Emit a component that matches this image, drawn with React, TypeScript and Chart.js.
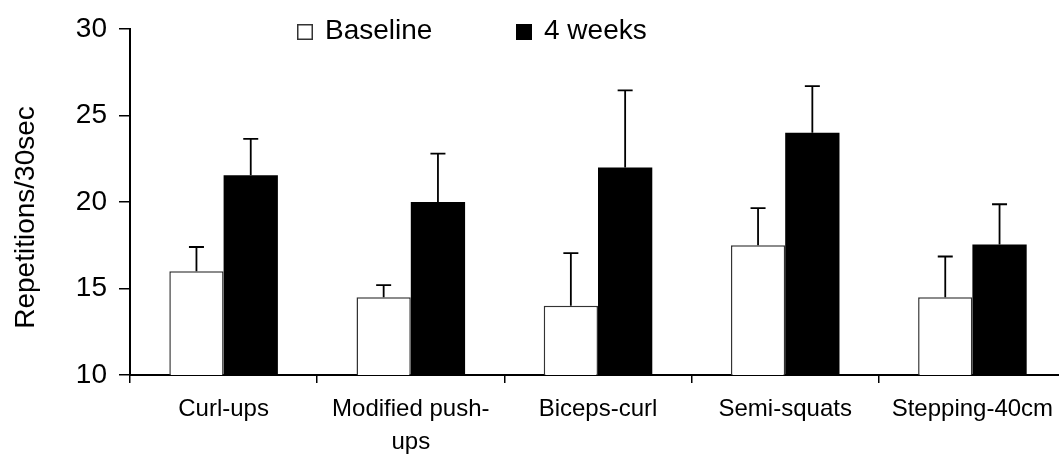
import React, { useEffect, useRef } from "react";
import { Chart, registerables } from "chart.js";

Chart.register(...registerables);

// ---- data ----
const categories: (string | string[])[] = [
  "Curl-ups",
  ["Modified push-", "ups"],
  "Biceps-curl",
  "Semi-squats",
  "Stepping-40cm",
];
const seriesNames = ["Baseline", "4 weeks"];
const baselineMeans = [16, 14.5, 14, 17.5, 14.5];
const baselineSD = [1.4, 0.7, 3.05, 2.15, 2.35];
const weeks4Means = [21.55, 20, 22, 24, 17.55];
const weeks4SD = [2.1, 2.8, 4.45, 2.7, 2.32];
const yMin = 10;
const yMax = 30;
const yStep = 5;
const yTitle = "Repetitions/30sec";

const FONT = "'Liberation Sans', Arial, Helvetica, sans-serif";

const errorBarsPlugin = {
  id: "errorBars",
  afterDatasetsDraw(chart: any) {
    const ctx = chart.ctx;
    const y = chart.scales.y;
    const sds = [baselineSD, weeks4SD];
    chart.data.datasets.forEach((ds: any, i: number) => {
      const meta = chart.getDatasetMeta(i);
      meta.data.forEach((bar: any, j: number) => {
        const x = bar.x;
        const top = y.getPixelForValue(ds.data[j] + sds[i][j]);
        ctx.save();
        ctx.strokeStyle = "#000";
        ctx.lineWidth = 1.8;
        ctx.beginPath();
        ctx.moveTo(x, bar.y);
        ctx.lineTo(x, top);
        ctx.moveTo(x - 7.5, top);
        ctx.lineTo(x + 7.5, top);
        ctx.stroke();
        ctx.restore();
      });
    });
  },
};

const customTextPlugin = {
  id: "customText",
  afterDraw(chart: any) {
    const ctx = chart.ctx;
    ctx.save();
    // y-axis title
    ctx.fillStyle = "#000";
    ctx.font = `28px ${FONT}`;
    ctx.translate(34, 217.5);
    ctx.rotate(-Math.PI / 2);
    ctx.textAlign = "center";
    ctx.textBaseline = "alphabetic";
    ctx.fillText(yTitle, 0, 0);
    ctx.restore();

    // legend
    ctx.save();
    ctx.font = `28px ${FONT}`;
    ctx.textAlign = "left";
    ctx.textBaseline = "alphabetic";
    const items = [
      { x: 297, fill: "#fff", stroke: "#333" },
      { x: 516, fill: "#000", stroke: "#000" },
    ];
    items.forEach((it, i) => {
      ctx.fillStyle = it.fill;
      ctx.fillRect(it.x, 24, 16, 16);
      ctx.strokeStyle = it.stroke;
      ctx.lineWidth = 1.5;
      ctx.strokeRect(it.x + 0.75, 24.75, 14.5, 14.5);
      ctx.fillStyle = "#000";
      ctx.fillText(seriesNames[i], it.x + 28, 39);
    });
    ctx.restore();
  },
};

export default function App() {
  const ref = useRef<HTMLCanvasElement | null>(null);

  useEffect(() => {
    if (!ref.current) return;
    const chart = new Chart(ref.current, {
      type: "bar",
      data: {
        labels: categories as any,
        datasets: [
          {
            label: seriesNames[0],
            data: baselineMeans,
            backgroundColor: "#fff",
            borderColor: "#333",
            borderWidth: 1.5,
            categoryPercentage: 0.58,
            barPercentage: 1,
          },
          {
            label: seriesNames[1],
            data: weeks4Means,
            backgroundColor: "#000",
            borderColor: "#000",
            borderWidth: 0,
            categoryPercentage: 0.58,
            barPercentage: 1,
          },
        ],
      },
      options: {
        animation: false,
        responsive: true,
        maintainAspectRatio: false,
        layout: { padding: { top: 29, right: 4, left: 0, bottom: 0 } },
        plugins: {
          legend: { display: false },
          tooltip: { enabled: false },
          title: { display: false },
        },
        scales: {
          x: {
            type: "category",
            offset: true,
            grid: {
              offset: true,
              drawOnChartArea: false,
              drawTicks: true,
              tickLength: 8,
              color: "#000",
              lineWidth: 1.5,
            },
            border: { display: true, color: "#000", width: 2 },
            ticks: {
              color: "#000",
              font: { family: FONT, size: 24, lineHeight: 1.36 },
              padding: 10,
              maxRotation: 0,
              minRotation: 0,
              autoSkip: false,
            },
            afterFit: (scale: any) => {
              scale.height = 82;
            },
          },
          y: {
            min: yMin,
            max: yMax,
            ticks: {
              stepSize: yStep,
              color: "#000",
              font: { family: FONT, size: 28 },
              padding: 12,
            },
            grid: {
              drawOnChartArea: false,
              drawTicks: true,
              tickLength: 11,
              color: "#000",
              lineWidth: 1.5,
            },
            border: { display: true, color: "#000", width: 2 },
            afterFit: (scale: any) => {
              scale.width = 130;
            },
          },
        },
      },
      plugins: [errorBarsPlugin, customTextPlugin],
    });
    return () => chart.destroy();
  }, []);

  return (
    <div
      style={{
        position: "absolute",
        left: 0,
        top: 0,
        width: 1059,
        height: 457,
        overflow: "hidden",
        background: "#fff",
      }}
    >
      <div style={{ position: "relative", width: 1070, height: 457 }}>
        <canvas ref={ref} />
      </div>
    </div>
  );
}
